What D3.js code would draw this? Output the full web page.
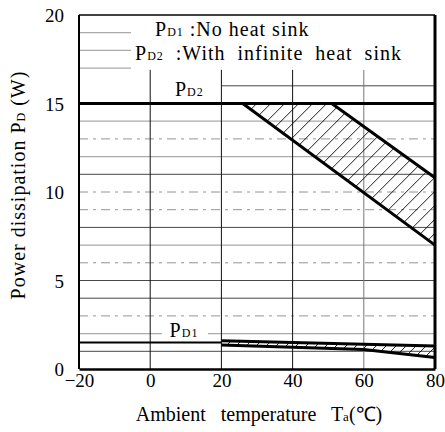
<!DOCTYPE html>
<html>
<head>
<meta charset="utf-8">
<script src="https://cdn.jsdelivr.net/npm/d3@7"></script>
<style>
  body { margin: 0; background: #fff; }
</style>
</head>
<body>
<script>
// axis ticks
var tempTicks = [-20, 0, 20, 40, 60, 80];
var powerTicks = [0, 5, 10, 15, 20];

// P_D2 (infinite heat sink) : flat 15 W line and the two derating edges
var pd2FlatT = [-20, 80];
var pd2FlatP = [15, 15];
var pd2LowT = [26, 80];
var pd2LowP = [15, 7.0];
var pd2HighT = [51, 80];
var pd2HighP = [15, 10.8];

// P_D1 (no heat sink)
var pd1FlatT = [-20, 20];
var pd1FlatP = [1.5, 1.5];
var pd1HighT = [20, 80];
var pd1HighP = [1.6, 1.3];
var pd1LowT = [20, 60, 80];
var pd1LowP = [1.35, 1.1, 0.65];

var legendLines = [
    { sub: "D1", text: " :No heat sink" },
    { sub: "D2", text: "  :With  infinite  heat  sink" }
];

var width = 445, height = 432;
var margin = { top: 15, right: 10, bottom: 63, left: 79 };
var serif = "'Liberation Serif', 'Times New Roman', serif";

var svg = d3.select("body")
    .append("svg")
    .attr("width", width)
    .attr("height", height)
    .attr("font-family", serif);

var x = d3.scaleLinear()
    .domain([-20, 80])
    .range([margin.left, width - margin.right]);

var y = d3.scaleLinear()
    .domain([0, 20])
    .range([height - margin.bottom, margin.top]);

var zip = function (ts, ps) { return ts.map(function (t, i) { return [t, ps[i]]; }); };
var line = d3.line().x(function (d) { return x(d[0]); }).y(function (d) { return y(d[1]); });

// horizontal grid, 1 W steps (the scan has a mix of grey and black rules)
var greyRules = [2, 7, 12, 14, 17, 18, 19];
var brokenRules = [3, 6, 9, 10, 13];
svg.append("g")
    .selectAll("line")
    .data(y.ticks(20).filter(function (v) { return v > 0 && v < 20 && v != 15; }))
    .enter()
    .append("line")
    .attr("x1", function (v) { return v == 16 ? x(20) : x(-20); })
    .attr("x2", x(80))
    .attr("y1", function (v) { return y(v); })
    .attr("y2", function (v) { return y(v); })
    .attr("stroke", function (v) {
        if (greyRules.indexOf(v) >= 0) return "#aaa";
        return brokenRules.indexOf(v) >= 0 ? "#888" : "#333";
    })
    .attr("stroke-width", function (v) { return greyRules.indexOf(v) >= 0 ? 1.3 : 0.9; })
    .attr("stroke-dasharray", function (v) { return brokenRules.indexOf(v) >= 0 ? "9,5,3,5" : null; });

// white areas behind legend and the P_D1 label
svg.append("rect").attr("x", 131).attr("y", y(20) + 1)
    .attr("width", x(80) - 131).attr("height", y(16.9) - y(20) - 1).attr("fill", "#fff");
svg.append("rect").attr("x", 162).attr("y", y(2.6))
    .attr("width", 46).attr("height", y(1.7) - y(2.6)).attr("fill", "#fff");

// vertical grid
svg.append("g")
    .selectAll("line")
    .data([0, 20, 40, 60])
    .enter()
    .append("line")
    .attr("x1", function (d) { return x(d); })
    .attr("x2", function (d) { return x(d); })
    .attr("y1", y(16.9))
    .attr("y2", y(0))
    .attr("stroke", function (d) { return d == 60 ? "#777" : "#111"; })
    .attr("stroke-width", 1);

// hatching helper: clip polygon and draw "/" lines
var hatch = function (id, poly, step) {
    svg.append("clipPath").attr("id", id)
        .append("path").attr("d", line(poly) + "Z");
    var xs = poly.map(function (d) { return x(d[0]); });
    var ys = poly.map(function (d) { return y(d[1]); });
    var x0 = d3.min(xs), x1 = d3.max(xs), y0 = d3.min(ys), y1 = d3.max(ys);
    var h = y1 - y0;
    var g = svg.append("g").attr("clip-path", "url(#" + id + ")");
    for (var s = x0 - h; s < x1; s += step) {
        g.append("line")
            .attr("x1", s).attr("y1", y1)
            .attr("x2", s + h).attr("y2", y0)
            .attr("stroke", "#000").attr("stroke-width", 0.9);
    }
};

hatch("pd2clip", zip(pd2HighT, pd2HighP).concat(zip(pd2LowT, pd2LowP).reverse()), 14);
hatch("pd1clip", zip(pd1HighT, pd1HighP).concat(zip(pd1LowT, pd1LowP).reverse()), 10);

// curves
var curves = [
    { pts: zip(pd2FlatT, pd2FlatP), w: 3 },
    { pts: zip(pd2LowT, pd2LowP), w: 3 },
    { pts: zip(pd2HighT, pd2HighP), w: 3 },
    { pts: zip(pd1FlatT, pd1FlatP), w: 2 },
    { pts: zip(pd1HighT, pd1HighP), w: 3 },
    { pts: zip(pd1LowT, pd1LowP), w: 3 }
];
svg.append("g")
    .selectAll("path")
    .data(curves)
    .enter()
    .append("path")
    .attr("d", function (d) { return line(d.pts); })
    .attr("fill", "none")
    .attr("stroke", "#000")
    .attr("stroke-width", function (d) { return d.w; });

// frame
svg.append("line").attr("x1", x(-20)).attr("x2", x(80)).attr("y1", y(20)).attr("y2", y(20))
    .attr("stroke", "#000").attr("stroke-width", 1.5);
svg.append("line").attr("x1", x(-20)).attr("x2", x(-20)).attr("y1", y(20)).attr("y2", y(0))
    .attr("stroke", "#000").attr("stroke-width", 2);
svg.append("line").attr("x1", x(80)).attr("x2", x(80)).attr("y1", y(20)).attr("y2", y(0))
    .attr("stroke", "#000").attr("stroke-width", 3);

// axes (labels only, the frame draws the sides)
var xAxis = svg.append("g")
    .attr("transform", "translate(0," + y(0) + ")")
    .call(d3.axisBottom(x).tickValues(tempTicks).tickSize(0).tickPadding(5)
        .tickFormat(function (d) { return d < 0 ? "\u2212" + (-d) : d; }));
xAxis.attr("font-family", serif);
xAxis.select(".domain").attr("stroke", "#000").attr("stroke-width", 2.5);
xAxis.selectAll("text").style("font-family", serif).style("font-size", "19px");

var yAxis = svg.append("g")
    .attr("transform", "translate(" + (x(-20) - 15) + ",0)")
    .call(d3.axisLeft(y).tickValues(powerTicks).tickSize(0).tickPadding(0));
yAxis.attr("font-family", serif);
yAxis.select(".domain").remove();
yAxis.selectAll("text").style("font-family", serif).style("font-size", "19px")
    .attr("dy", "0.35em");

// legend
svg.append("g")
    .selectAll("text")
    .data(legendLines)
    .enter()
    .append("text")
    .attr("x", function (d, i) { return i == 0 ? 155 : 135; })
    .attr("y", function (d, i) { return i == 0 ? 36 : 60; })
    .style("font-family", serif)
    .style("font-size", "20px")
    .style("letter-spacing", "1px")
    .style("white-space", "pre")
    .each(function (d) {
        var t = d3.select(this);
        t.append("tspan").text("P");
        t.append("tspan").style("font-size", "12px").text(d.sub);
        t.append("tspan").text(d.text);
    });

// curve labels
var curveLabels = [
    { sub: "D2", t: 11, p: 15.45 },
    { sub: "D1", t: 9.5, p: 1.8 }
];
svg.selectAll(".clab")
    .data(curveLabels)
    .enter()
    .append("text")
    .attr("class", "clab")
    .attr("x", function (d) { return x(d.t); })
    .attr("y", function (d) { return y(d.p); })
    .attr("text-anchor", "middle")
    .style("font-family", serif)
    .style("font-size", "20px")
    .style("letter-spacing", "1px")
    .each(function (d) {
        var t = d3.select(this);
        t.append("tspan").text("P");
        t.append("tspan").style("font-size", "12px").text(d.sub);
    });

// axis titles
var xt = svg.append("text")
    .attr("x", 259)
    .attr("y", 421)
    .attr("text-anchor", "middle")
    .style("font-family", serif)
    .style("font-size", "20px")
    .style("white-space", "pre");
xt.append("tspan").text("Ambient   temperature   T");
xt.append("tspan").style("font-size", "13px").text("a");
xt.append("tspan").text("(\u2103)");

var yt = svg.append("text")
    .attr("transform", "translate(25,185) rotate(-90)")
    .attr("text-anchor", "middle")
    .style("font-family", serif)
    .style("font-size", "20px")
    .style("letter-spacing", "1px");
yt.append("tspan").text("Power dissipation P");
yt.append("tspan").style("font-size", "12px").text("D");
yt.append("tspan").text(" (W)");
</script>
</body>
</html>
